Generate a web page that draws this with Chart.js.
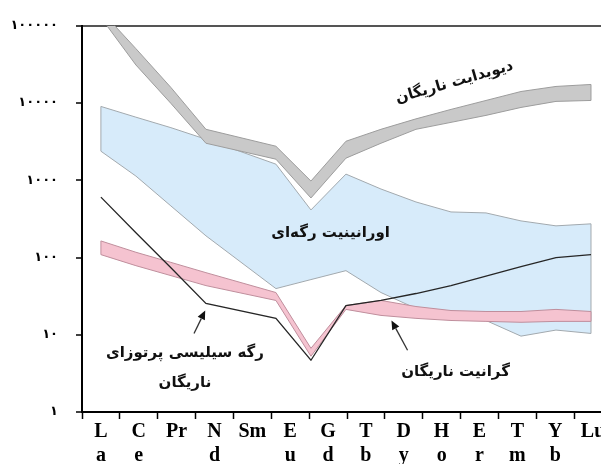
<!DOCTYPE html>
<html>
<head>
<meta charset="utf-8">
<script src="https://cdn.jsdelivr.net/npm/chart.js@4/dist/chart.umd.min.js"></script>
<style>
  html, body { margin: 0; padding: 0; background: #fff; overflow: hidden; width: 601px; height: 464px; }
  #wrap { width: 612px; height: 464px; }
</style>
</head>
<body>
<div id="wrap"><canvas id="ree" width="612" height="464"></canvas></div>
<script>
// Rare earth elements, their atomic numbers (Pm left as a gap) and the axis captions
const elements = ['La','Ce','Pr','Nd','Sm','Eu','Gd','Tb','Dy','Ho','Er','Tm','Yb','Lu'];
const atomicNumbers = [57, 58, 59, 60, 62, 63, 64, 65, 66, 67, 68, 69, 70, 71];
const axisLabels = [['L','a'],['C','e'],['Pr'],['N','d'],['Sm'],['E','u'],['G','d'],['T','b'],['D','y'],['H','o'],['E','r'],['T','m'],['Y','b'],['Lu']];
const yTickValues = [1, 10, 100, 1000, 10000, 100000];
const yTickLabels = ['۱', '۱۰', '۱۰۰', '۱۰۰۰', '۱۰۰۰۰', '۱۰۰۰۰۰'];

// Chondrite-normalised ranges (upper / lower envelopes) and the single vein profile
const daviditeHigh  = [157000, 50600, 15900, 4570, 2760, 977, 3200, 4570, 6240, 8270, 10800, 14100, 16400, 17400];
const daviditeLow   = [128000, 31100, 9890, 3016, 1876, 590, 1933, 3016, 4570, 5620, 6920, 8770, 10500, 10800];
const uraniniteHigh = [9040, 6560, 4800, 3400, 1617, 413, 1202, 771, 524, 389, 378, 298, 257, 273];
const uraniniteLow  = [2380, 1133, 465, 191, 39.6, 51.8, 67.6, 35.2, 21.9, 18.9, 15.3, 9.6, 11.5, 10.4];
const graniteHigh   = [164, 117, 86.5, 63.7, 35.2, 6.68, 23.9, 27.8, 23.2, 20.6, 20.0, 20.0, 21.3, 20.0];
const graniteLow    = [109, 78.4, 58.3, 43.3, 27.8, 5.27, 21.3, 17.8, 16.3, 15.3, 14.9, 14.5, 14.9, 14.9];
const siliceousVein = [605, 209, 73.7, 25.4, 16.3, 4.68, 23.9, 27.8, 34.2, 43.3, 57.4, 76.1, 99.4, 108.7];

const pts = arr => atomicNumbers.map((z, i) => ({ x: z, y: arr[i] }));

const common = { xAxisID: 'z', yAxisID: 'y', pointRadius: 0, tension: 0 };

// Vertical end edges of the shaded ranges
const bandCaps = {
  id: 'bandCaps',
  afterDatasetDraw(chart, args) {
    const ds = chart.data.datasets[args.index];
    if (ds.capTo === undefined) return;
    const up = chart.getDatasetMeta(args.index).data;
    const lo = chart.getDatasetMeta(ds.capTo).data;
    const a = chart.chartArea;
    const ctx = chart.ctx;
    ctx.save();
    ctx.beginPath();
    ctx.rect(a.left, a.top, a.right - a.left, a.bottom - a.top);
    ctx.clip();
    ctx.strokeStyle = ds.borderColor;
    ctx.lineWidth = ds.borderWidth;
    [0, up.length - 1].forEach(i => {
      ctx.beginPath();
      ctx.moveTo(up[i].x, up[i].y);
      ctx.lineTo(lo[i].x, lo[i].y);
      ctx.stroke();
    });
    ctx.restore();
  }
};

// Persian captions and pointer arrows, placed in axis units (atomic number, value)
const captions = [
  { text: 'دیویدایت ناریگان', z: 67.1, v: 18500, angle: -16, size: 15 },
  { text: 'اورانینیت رگه‌ای', z: 63.56, v: 209, angle: 0, size: 15 },
  { text: 'رگه سیلیسی پرتوزای', z: 59.4, v: 5.76, angle: 0, size: 15 },
  { text: 'ناریگان', z: 59.4, v: 2.36, angle: 0, size: 15 },
  { text: 'گرانیت ناریگان', z: 67.13, v: 3.28, angle: 0, size: 15 }
];
const arrows = [
  { from: [59.66, 10.4], to: [59.98, 20.6] },
  { from: [65.76, 6.3], to: [65.3, 15.3] }
];

const overlay = {
  id: 'overlay',
  afterDraw(chart) {
    const ctx = chart.ctx;
    const zs = chart.scales.z, ys = chart.scales.y;
    ctx.save();
    ctx.fillStyle = '#111';
    ctx.textAlign = 'center';
    ctx.textBaseline = 'middle';
    ctx.direction = 'rtl';
    captions.forEach(c => {
      const x = zs.getPixelForValue(c.z), y = ys.getPixelForValue(c.v);
      ctx.save();
      ctx.font = 'bold ' + c.size + 'px "DejaVu Sans", sans-serif';
      ctx.translate(x, y);
      ctx.rotate(c.angle * Math.PI / 180);
      ctx.fillText(c.text, 0, 0);
      ctx.restore();
    });
    ctx.strokeStyle = '#333';
    ctx.fillStyle = '#111';
    ctx.lineWidth = 1.3;
    arrows.forEach(a => {
      const x0 = zs.getPixelForValue(a.from[0]), y0 = ys.getPixelForValue(a.from[1]);
      const x1 = zs.getPixelForValue(a.to[0]), y1 = ys.getPixelForValue(a.to[1]);
      const ang = Math.atan2(y1 - y0, x1 - x0);
      const hl = 9, hw = 4;
      const bx = x1 - hl * Math.cos(ang), by = y1 - hl * Math.sin(ang);
      ctx.beginPath();
      ctx.moveTo(x0, y0);
      ctx.lineTo(bx, by);
      ctx.stroke();
      ctx.beginPath();
      ctx.moveTo(x1, y1);
      ctx.lineTo(bx + hw * Math.sin(ang), by - hw * Math.cos(ang));
      ctx.lineTo(bx - hw * Math.sin(ang), by + hw * Math.cos(ang));
      ctx.closePath();
      ctx.fill();
    });
    ctx.restore();
  }
};

new Chart(document.getElementById('ree'), {
  type: 'line',
  data: {
    labels: elements,
    datasets: [
      { ...common, data: pts(uraniniteHigh), borderColor: '#a2a9ae', borderWidth: 1, backgroundColor: '#d7ebfa', fill: '+1', order: 8, capTo: 1 },
      { ...common, data: pts(uraniniteLow), borderColor: '#a2a9ae', borderWidth: 1, fill: false, order: 7 },
      { ...common, data: pts(daviditeHigh), borderColor: '#9d9d9d', borderWidth: 1, backgroundColor: '#c9c9c9', fill: '+1', order: 6, capTo: 3 },
      { ...common, data: pts(daviditeLow), borderColor: '#9d9d9d', borderWidth: 1, fill: false, order: 5 },
      { ...common, data: pts(graniteHigh), borderColor: '#bf8e9c', borderWidth: 1, backgroundColor: '#f5c3d0', fill: '+1', order: 4, capTo: 5 },
      { ...common, data: pts(graniteLow), borderColor: '#bf8e9c', borderWidth: 1, fill: false, order: 3 },
      { ...common, data: pts(siliceousVein), borderColor: '#262626', borderWidth: 1.3, fill: false, order: 1 }
    ]
  },
  options: {
    responsive: false,
    animation: false,
    layout: { padding: { top: 24, left: 0, right: 0, bottom: 0 } },
    plugins: { legend: { display: false }, tooltip: { enabled: false } },
    scales: {
      x: {
        type: 'category',
        position: 'bottom',
        offset: true,
        border: { display: true, color: '#000', width: 2 },
        grid: { offset: true, drawOnChartArea: false, drawTicks: true, tickLength: 7, tickColor: '#000', tickWidth: 1.5 },
        ticks: {
          autoSkip: false, maxRotation: 0, minRotation: 0, padding: 1,
          color: '#000',
          font: { family: '"Liberation Serif", serif', weight: 'bold', size: 20, lineHeight: 1.2 },
          callback: (v, i) => axisLabels[i]
        },
        afterFit: s => { s.height = 52; }
      },
      z: {
        type: 'linear', axis: 'x', position: 'bottom', display: false,
        min: 56.46, max: 71.6
      },
      y: {
        type: 'logarithmic',
        min: 1, max: 100000,
        z: 1,
        border: { display: true, color: '#000', width: 2 },
        grid: {
          drawTicks: true, tickLength: 6, tickColor: '#000', tickWidth: 1.5,
          color: c => (c.tick && c.tick.value === 100000) ? '#555' : 'rgba(0,0,0,0)',
          lineWidth: c => (c.tick && c.tick.value === 100000) ? 2 : 0
        },
        afterBuildTicks: s => { s.ticks = yTickValues.map(v => ({ value: v })); },
        ticks: {
          padding: 18, color: '#000',
          font: { family: '"DejaVu Sans", sans-serif', weight: 'bold', size: 13 },
          callback: v => yTickLabels[yTickValues.indexOf(v)]
        },
        afterFit: s => { s.width = 82; }
      }
    }
  },
  plugins: [bandCaps, overlay]
});
</script>
</body>
</html>
